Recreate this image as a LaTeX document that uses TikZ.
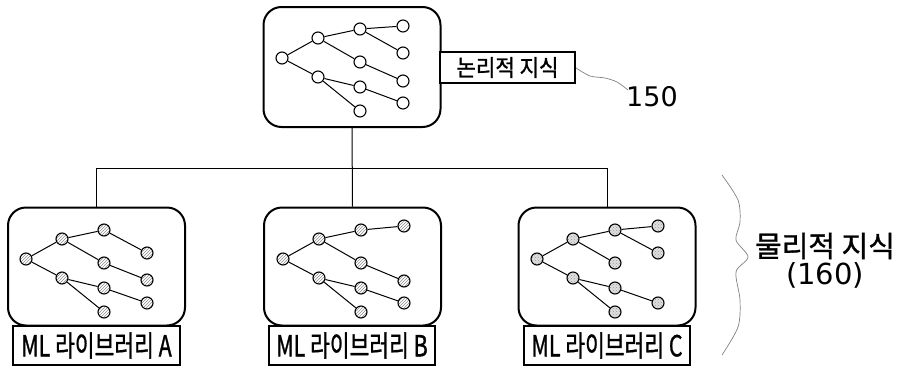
\documentclass[tikz,border=0pt]{standalone}
\usepackage{fontspec}
\setmainfont{DejaVu Sans}
\newfontfamily\kr[FakeBold=1.2]{Noto Sans CJK KR}
\usetikzlibrary{patterns}
\tikzset{
  tn/.style={circle,draw=black,line width=1.1pt,minimum size=12pt,inner sep=0pt,fill=white},
  hatchfill/.style={pattern=north east lines,pattern color=gray!90},
  dotfill/.style={preaction={fill=gray!25},pattern=crosshatch dots,pattern color=gray!80},
  te/.style={line width=1pt},
  bigbox/.style={draw=black,line width=2pt,rounded corners=18pt,minimum width=177pt,minimum height=118pt,inner sep=0pt},
  lbox/.style={draw=black,line width=2pt,inner sep=0pt,fill=white},
  conn/.style={line width=1pt},
  wav/.style={draw=gray,line width=0.7pt},
}
\newcommand\treebase[4]{%
  \begin{scope}[shift={(#2,#3)}]
    \node[tn,#4] (#1r) at (18,51) {};
    \node[tn,#4] (#1a) at (54,31) {};
    \node[tn,#4] (#1b) at (54,70) {};
    \node[tn,#4] (#1c) at (96,22) {};
    \node[tn,#4] (#1d) at (96,55) {};
    \node[tn,#4] (#1e) at (96,80) {};
    \node[tn,#4] (#1f) at (96,104) {};
  \end{scope}
  \draw[te] (#1r) -- (#1a);
  \draw[te] (#1r) -- (#1b);
  \draw[te] (#1a) -- (#1c);
  \draw[te] (#1a) -- (#1d);
  \draw[te] (#1b) -- (#1e);
  \draw[te] (#1b) -- (#1f);
}
% #1 prefix #2 name #3 parent #4 x0 #5 y0 #6 rel y, #7 style
\newcommand\leafnode[7]{%
  \begin{scope}[shift={(#4,#5)}]
    \node[tn,#7] (#1#2) at (139,#6) {};
  \end{scope}
  \draw[te] (#1#3) -- (#1#2);
}
\begin{document}
\begin{tikzpicture}[x=1pt,y=-1pt]
\useasboundingbox (0,0) rectangle (905,367);
% boxes
\node[bigbox,minimum height=120pt] (top) at (352,67) {};
\node[bigbox] (boxA) at (96.5,266.5) {};
\node[bigbox] (boxB) at (352.5,266.5) {};
\node[bigbox] (boxC) at (607,266.5) {};
% connectors
\draw[conn] (top.south) -- (boxB.north);
\draw[conn] (boxA.north) -- ++(0,-38) -| (boxC.north);
% trees
\treebase{t}{264}{7}{}
\leafnode{t}{g}{c}{264}{7}{19}{}
\leafnode{t}{h}{c}{264}{7}{46}{}
\leafnode{t}{i}{d}{264}{7}{74}{}
\leafnode{t}{j}{e}{264}{7}{96}{}
\treebase{A}{8}{208}{hatchfill}
\leafnode{A}{h}{c}{8}{208}{45}{hatchfill}
\leafnode{A}{i}{d}{8}{208}{72}{hatchfill}
\leafnode{A}{j}{e}{8}{208}{95}{hatchfill}
\treebase{B}{265}{208}{hatchfill}
\leafnode{B}{g}{c}{265}{208}{18}{hatchfill}
\leafnode{B}{i}{d}{265}{208}{73}{hatchfill}
\leafnode{B}{j}{e}{265}{208}{95}{hatchfill}
\treebase{C}{519}{208}{dotfill}
\leafnode{C}{g}{c}{519}{208}{18}{dotfill}
\leafnode{C}{h}{c}{519}{208}{45}{dotfill}
\leafnode{C}{j}{e}{519}{208}{95}{dotfill}
% labels
\node[lbox,minimum width=135pt,minimum height=31pt] (lk) at (507.5,67.5) {\scalebox{0.92}[1]{\kr\fontsize{23}{26}\selectfont 논리적 지식}};
\node[lbox,minimum width=167pt,minimum height=39pt] (la) at (96.5,345.5) {\scalebox{0.74}[1]{\kr\fontsize{29}{32}\selectfont ML 라이브러리 A}};
\node[lbox,minimum width=166pt,minimum height=39pt] (lb) at (352,345.5) {\scalebox{0.74}[1]{\kr\fontsize{29}{32}\selectfont ML 라이브러리 B}};
\node[lbox,minimum width=166pt,minimum height=39pt] (lc) at (607,345.5) {\scalebox{0.74}[1]{\kr\fontsize{29}{32}\selectfont ML 라이브러리 C}};
% 150
\node (n150) at (652,97) {\fontsize{27}{30}\selectfont 150};
\draw[wav] plot[smooth] coordinates {(576,68) (590,76) (605,78) (617,82) (628,90)};
% physical knowledge
\draw[wav] plot[smooth] coordinates {(722,175) (738,200) (740,222) (736,240) (748,257) (736,272) (740,300) (738,327) (722,355)};
\node (pk) at (825,246) {\kr\fontsize{29}{32}\selectfont 물리적 지식};
\node (n160) at (825,275) {\fontsize{29}{32}\selectfont (160)};
\end{tikzpicture}
\end{document}
